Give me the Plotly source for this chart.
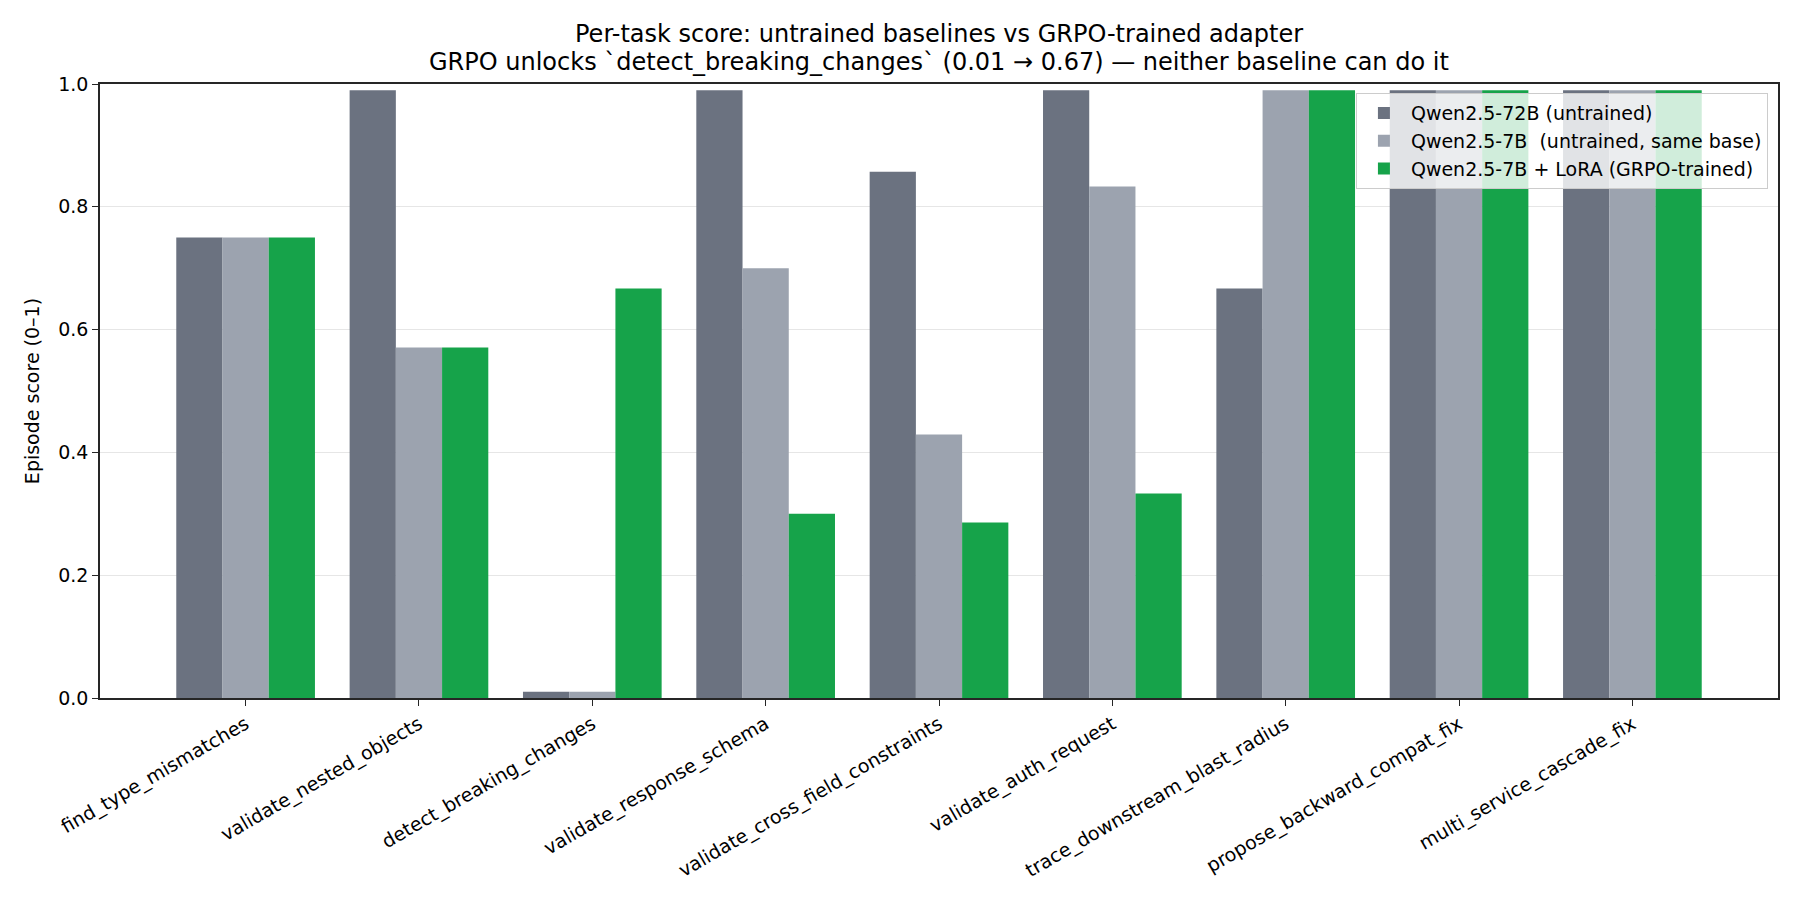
"""Per-task episode scores: untrained baselines vs GRPO-trained LoRA adapter."""

import plotly.graph_objects as go

tasks = [
    "find_type_mismatches",
    "validate_nested_objects",
    "detect_breaking_changes",
    "validate_response_schema",
    "validate_cross_field_constraints",
    "validate_auth_request",
    "trace_downstream_blast_radius",
    "propose_backward_compat_fix",
    "multi_service_cascade_fix",
]

qwen72b = [0.75, 0.99, 0.01, 0.99, 0.857, 0.99, 0.667, 0.99, 0.99]
qwen7b = [0.75, 0.571, 0.01, 0.70, 0.429, 0.833, 0.99, 0.99, 0.99]
qwen7b_lora = [0.75, 0.571, 0.667, 0.30, 0.286, 0.333, 0.99, 0.99, 0.99]

series_names = [
    "Qwen2.5-72B (untrained)",
    "Qwen2.5-7B  (untrained, same base)",
    "Qwen2.5-7B + LoRA (GRPO-trained)",
]
colors = ["#6b7280", "#9ca3af", "#16a34a"]

title_lines = [
    "Per-task score: untrained baselines vs GRPO-trained adapter",
    "GRPO unlocks `detect_breaking_changes` (0.01 → 0.67) — neither baseline can do it",
]

font_family = "DejaVu Sans"
axis_color = "#262626"

fig = go.Figure()
for name, vals, c in zip(series_names, [qwen72b, qwen7b, qwen7b_lora], colors):
    fig.add_trace(go.Bar(x=tasks, y=vals, name=name, marker=dict(color=c, line=dict(width=0))))

# the page body has an 8px margin, so margins are shifted to compensate
fig.update_layout(
    width=1800,
    height=900,
    margin=dict(l=92, r=30, t=76, b=210),
    paper_bgcolor="white",
    plot_bgcolor="white",
    font=dict(family=font_family, color="black", size=19),
    barmode="group",
    bargap=0.2,
    bargroupgap=0,
    legend=dict(
        x=0.994, xanchor="right", xref="paper",
        y=0.985, yanchor="top", yref="paper",
        bgcolor="rgba(255,255,255,0.8)",
        bordercolor="#cccccc",
        borderwidth=1,
        font=dict(size=19, family=font_family),
        tracegroupgap=0,
        itemwidth=44,
    ),
)

# two title lines as separate annotations for tighter line spacing
for i, line in enumerate(title_lines):
    fig.add_annotation(
        text=line, showarrow=False,
        xref="paper", x=0.5, xanchor="center",
        yref="paper", y=1, yanchor="bottom",
        yshift=6 + 28 * (len(title_lines) - 1 - i),
        font=dict(size=24, family=font_family, color="black"),
    )

fig.update_xaxes(
    range=[-0.84, 8.84],
    tickangle=-30,
    tickfont=dict(size=19),
    showline=True, linecolor=axis_color, linewidth=1.5, mirror=True,
    ticks="outside", ticklen=6, tickcolor=axis_color,
    showgrid=False,
)
fig.update_yaxes(
    range=[0, 1],
    dtick=0.2,
    tickformat=".1f",
    title=dict(text="Episode score (0–1)", font=dict(size=19), standoff=14),
    showline=True, linecolor=axis_color, linewidth=1.5, mirror=True,
    ticks="outside", ticklen=6, tickcolor=axis_color,
    showgrid=True, gridcolor="#e6e6e6", gridwidth=1,
    zeroline=False,
)

fig.write_html("out.html")
